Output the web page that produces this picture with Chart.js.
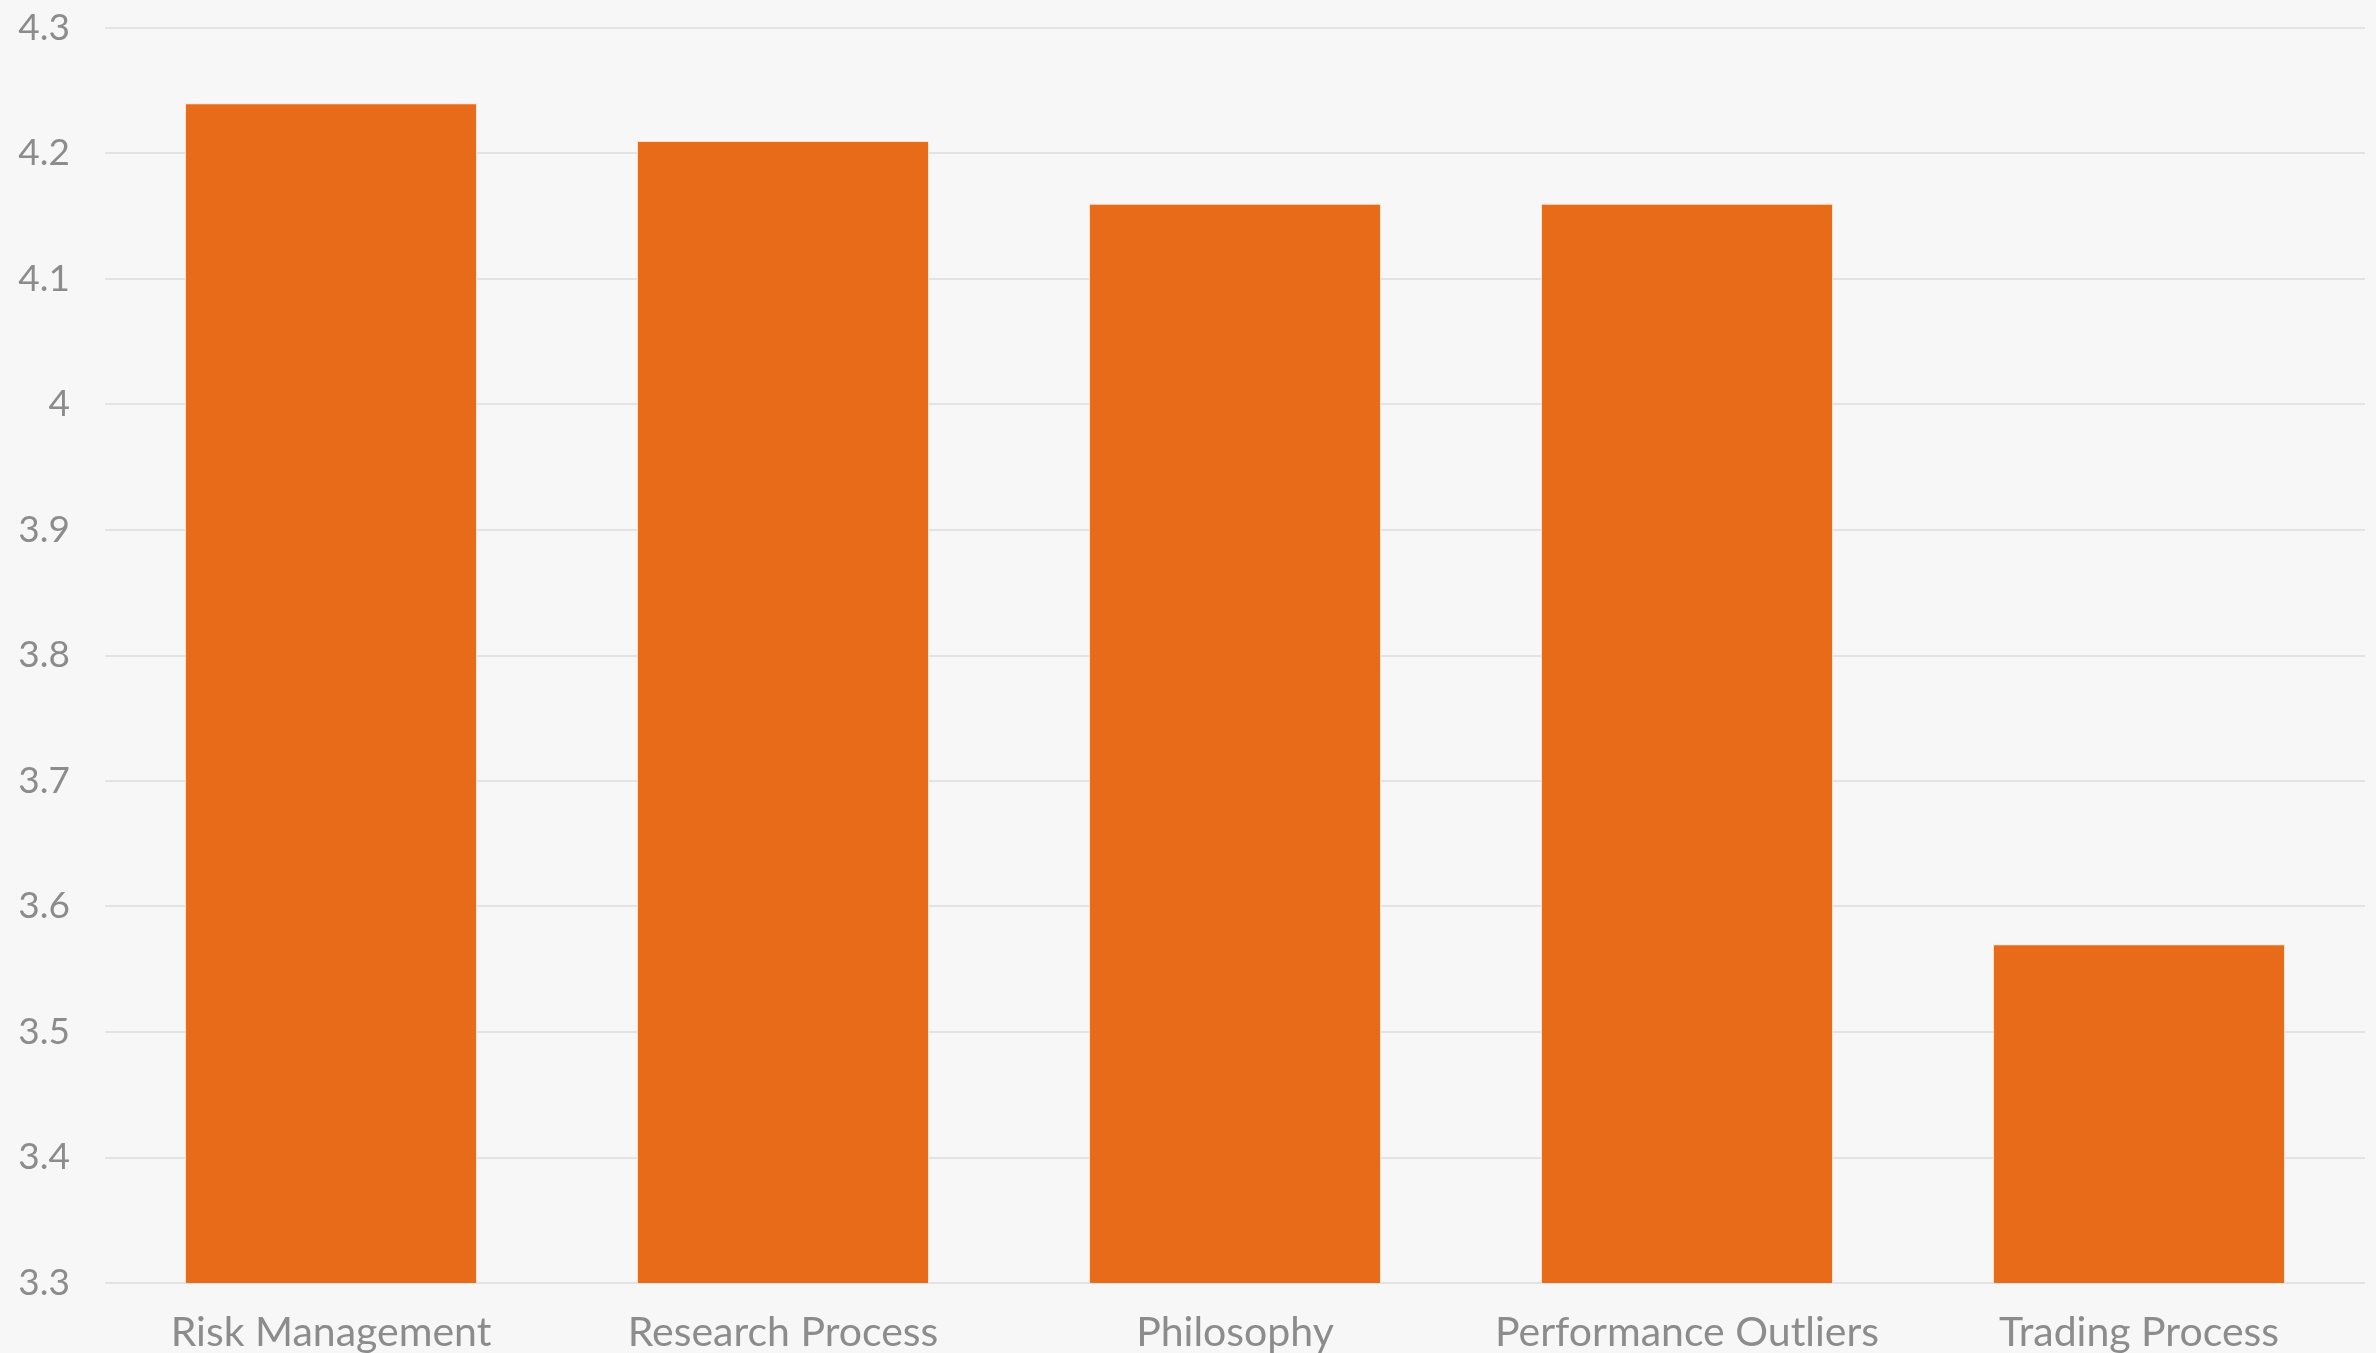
<!DOCTYPE html>
<html>
<head>
<meta charset="utf-8">
<script src="https://cdn.jsdelivr.net/npm/chart.js@4/dist/chart.umd.min.js"></script>
<style>
    html, body { margin: 0; padding: 0; background: #f7f7f7; }
    #wrap { width: 2376px; height: 1353px; position: relative; }
</style>
</head>
<body>
<div id="wrap"><canvas id="chartCanvas"></canvas></div>
<script>
const categories = ['Risk Management', 'Research Process', 'Philosophy', 'Performance Outliers', 'Trading Process'];
const scores = [4.24, 4.21, 4.16, 4.16, 3.57];
const yMin = 3.3;
const yMax = 4.3;
const yStep = 0.1;

const textColor = '#8c8c8c';
const gridColor = '#e3e3e3';
const barColor = '#e86b1a';

const ctx = document.getElementById('chartCanvas').getContext('2d');

new Chart(ctx, {
    type: 'bar',
    data: {
        labels: categories,
        datasets: [{
            label: 'Score',
            data: scores,
            backgroundColor: barColor,
            borderColor: 'rgba(255, 220, 200, 0.8)',
            borderWidth: 1,
            categoryPercentage: 1,
            barPercentage: 0.646
        }]
    },
    options: {
        responsive: true,
        maintainAspectRatio: false,
        animation: false,
        layout: {
            padding: { top: 28, right: 11, left: 0, bottom: 0 }
        },
        plugins: {
            legend: { display: false },
            tooltip: { enabled: false }
        },
        scales: {
            x: {
                grid: { display: false },
                border: { display: false },
                ticks: {
                    color: textColor,
                    padding: 17,
                    maxRotation: 0,
                    font: { family: 'Lato, "Open Sans", sans-serif', size: 41 }
                },
                afterFit: function(scale) {
                    scale.height = 70;
                    scale.paddingLeft = 0;
                    scale.paddingRight = 0;
                }
            },
            y: {
                min: yMin,
                max: yMax,
                grid: {
                    color: gridColor,
                    lineWidth: 2,
                    drawTicks: false
                },
                border: { display: false },
                ticks: {
                    stepSize: yStep,
                    color: textColor,
                    padding: 35,
                    font: { family: 'Lato, "Open Sans", sans-serif', size: 37 },
                    callback: function(v) { return String(Number(v.toFixed(1))); }
                },
                afterFit: function(scale) {
                    scale.width = 105;
                    scale.paddingTop = 0;
                    scale.paddingBottom = 0;
                }
            }
        }
    }
});
</script>
</body>
</html>
